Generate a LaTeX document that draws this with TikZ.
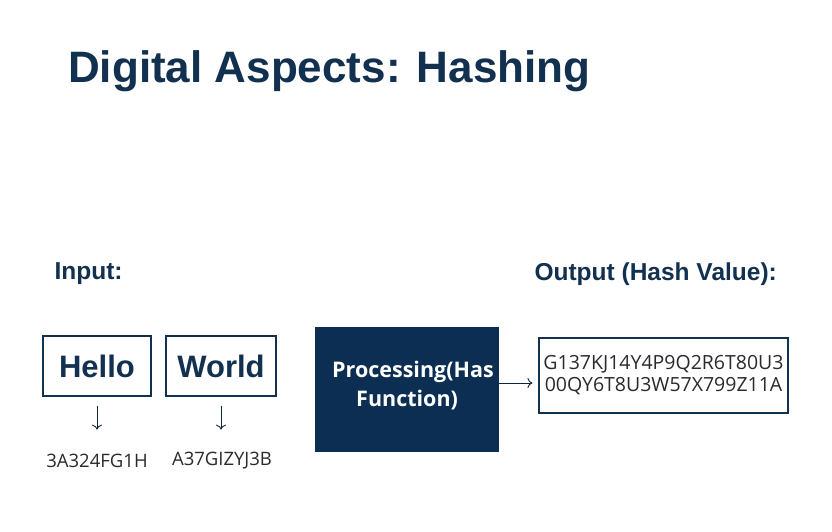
\documentclass[tikz,border=0pt]{standalone}
\usepackage{fontspec}
\setmainfont{Liberation Sans}
\newfontfamily\hashfont{Open Sans}
\usetikzlibrary{arrows.meta}
\definecolor{navy}{HTML}{12304F}
\definecolor{boxnavy}{HTML}{0B2E52}
\definecolor{txtgray}{HTML}{2A2A2A}
\begin{document}
\begin{tikzpicture}[x=1pt,y=-1pt,
  inbox/.style={draw=navy,line width=1.2pt,minimum width=108pt,minimum height=60pt,inner sep=0pt,font=\bfseries\fontsize{31}{33}\selectfont,text=navy},
  hashtxt/.style={font=\hashfont\fontsize{18.5}{20}\selectfont,text=txtgray},
  arr/.style={-{To[length=5pt,width=10pt]},line width=0.9pt,draw=navy!80!black},
  lbl/.style={font=\bfseries\fontsize{24.5}{27}\selectfont,text=navy,anchor=west}]
\useasboundingbox (0,0) rectangle (832,531);
\node[anchor=base west,font=\bfseries\fontsize{44}{48}\selectfont,text=navy,inner sep=0] (title) at (68,82) {Digital Aspects: Hashing};
\node[lbl] (in) at (51,274) {Input:};
\node[lbl] (out) at (531,274) {Output (Hash Value):};
\node[inbox] (hello) at (97,366) {Hello};
\node[inbox,minimum width=110pt] (world) at (221,366) {World};
\node[hashtxt] (h1) at (97,461) {3A324FG1H};
\node[hashtxt] (h2) at (222,461) {A37GIZYJ3B};
\draw[arr] (hello.south) ++(0,9) coordinate (a1) -- ++(0,24) coordinate (a1e);
\draw[arr] (world.south) ++(0,9) coordinate (a2) -- ++(0,24) coordinate (a2e);
\node[fill=boxnavy,minimum width=184pt,minimum height=125pt,inner sep=0] (proc) at (407,389.5) {};
\node[text=white,font=\hashfont\bfseries\fontsize{21.5}{33}\selectfont,align=left,anchor=north west,inner sep=0] (ptxt) at (332,361) {Processing(Has\\[-4pt]\hspace*{24pt}Function)};
\node[draw=navy,line width=1.2pt,minimum width=249pt,minimum height=75pt,inner sep=0,align=center,font=\hashfont\fontsize{19.5}{22}\selectfont,text=txtgray] (outbox) at (663.5,375.5) {G137KJ14Y4P9Q2R6T80U3\\00QY6T8U3W57X799Z11A};
\draw[arr] (proc.east |- 0,383) -- ([xshift=-6pt]outbox.west |- 0,383);
\end{tikzpicture}
\end{document}
